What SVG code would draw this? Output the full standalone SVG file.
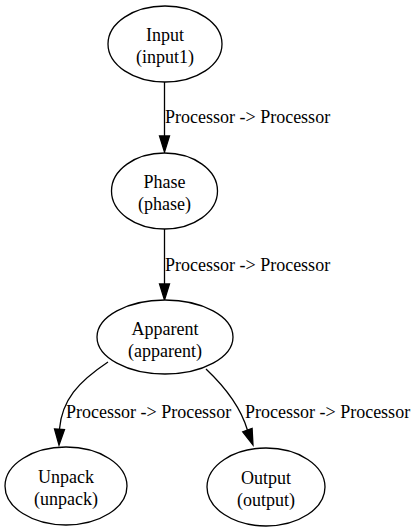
<svg xmlns="http://www.w3.org/2000/svg" width="417" height="530" viewBox="0 0 417 530">
<style>
.n ellipse{fill:#fff;stroke:#000;stroke-width:1.3}
text{font-family:"Liberation Serif","Times New Roman",serif;font-size:18px;fill:#000}
.n text{text-anchor:middle}
.e path{fill:none;stroke:#000;stroke-width:1.3}
.e polygon{fill:#000;stroke:#000;stroke-width:1.3}
</style>
<rect width="417" height="530" fill="#fff"/>
<g id="edges" class="e">
<path d="M164.5,82 L164.5,136"/>
<polygon points="159.5,136 169.5,136 164.5,152"/>
<text x="165" y="123">Processor -&gt; Processor</text>
<path d="M164.5,229 L164.5,284"/>
<polygon points="159.5,284 169.5,284 164.5,300"/>
<text x="165" y="271">Processor -&gt; Processor</text>
<path d="M108,362 C78,382 62,400 59.5,429"/>
<polygon points="54.5,429 64.5,429.5 59,445"/>
<text x="66" y="418">Processor -&gt; Processor</text>
<path d="M206,369 C224,386 240,405 247.4,430"/>
<polygon points="242.7,431.8 252.1,428.3 253,445"/>
<text x="245" y="418">Processor -&gt; Processor</text>
</g>
<g id="input1" class="n">
<ellipse cx="165" cy="44" rx="57" ry="38"/>
<text x="165" y="41">Input</text>
<text x="165" y="63">(input1)</text>
</g>
<g id="phase" class="n">
<ellipse cx="164.5" cy="191" rx="53" ry="38"/>
<text x="164.5" y="188">Phase</text>
<text x="164.5" y="210">(phase)</text>
</g>
<g id="apparent" class="n">
<ellipse cx="165" cy="337" rx="68" ry="37"/>
<text x="165" y="335">Apparent</text>
<text x="165" y="357">(apparent)</text>
</g>
<g id="unpack" class="n">
<ellipse cx="66" cy="486" rx="61" ry="39"/>
<text x="66" y="483">Unpack</text>
<text x="66" y="505">(unpack)</text>
</g>
<g id="output" class="n">
<ellipse cx="266" cy="487" rx="59" ry="39"/>
<text x="266" y="484">Output</text>
<text x="266" y="506">(output)</text>
</g>
</svg>
